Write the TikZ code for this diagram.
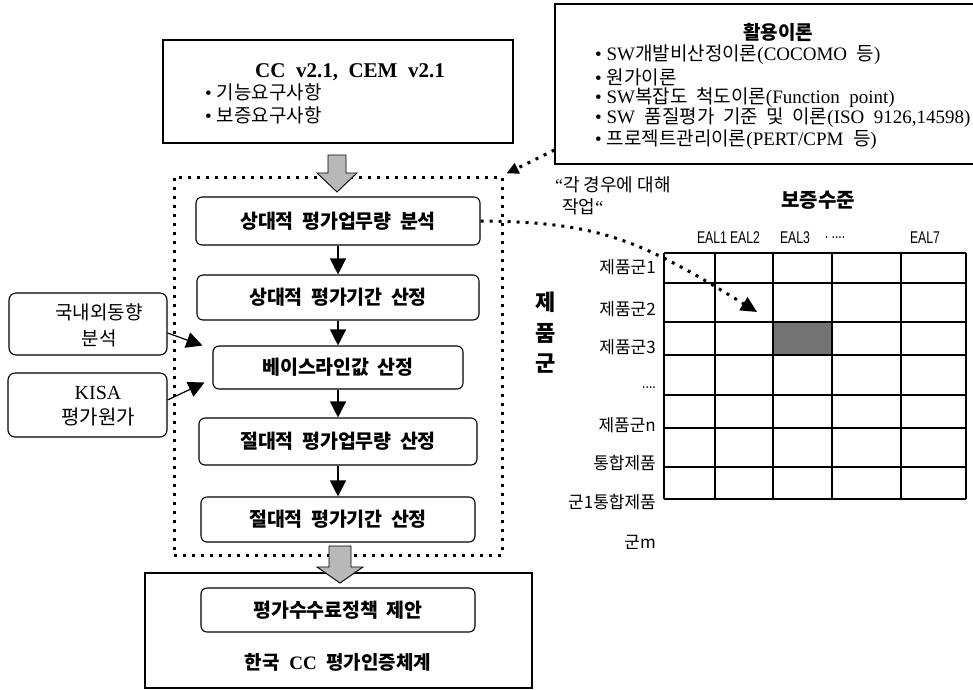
\documentclass[tikz,border=0pt]{standalone}
\usepackage{fontspec}
\setmainfont{Liberation Serif}
\newfontfamily\kr{Noto Sans CJK KR}
\newfontfamily\ealfont[FakeStretch=0.72]{Liberation Sans}
\usetikzlibrary{arrows.meta}
\newcommand\wsp{\hspace{0.42em}}
\tikzset{
  plainbox/.style={draw, line width=1.1pt, inner sep=0pt},
  stepbox/.style={draw, line width=1.1pt, rounded corners=6pt, inner sep=0pt,
    font=\kr\bfseries\fontsize{19.5}{22}\selectfont},
  sidebox/.style={draw, line width=1.1pt, rounded corners=7pt, inner sep=0pt},
  sidetext/.style={inner sep=0pt, align=center, font=\kr\fontsize{19}{26}\selectfont},
  flow/.style={-{Triangle[width=16pt,length=16pt]}, line width=1.2pt},
  dotline/.style={line width=3pt, dash pattern=on 3pt off 6pt},
  hollow/.style={draw=black, line width=0.9pt, fill=black!28},
  rowlab/.style={anchor=east, inner sep=0pt, font=\kr\fontsize{17}{17}\selectfont},
  eal/.style={inner sep=0pt, font=\ealfont\fontsize{17}{17}\selectfont},
  gridl/.style={line width=1.2pt},
  krtext/.style={inner sep=0pt, font=\kr\fontsize{#1}{#1}\selectfont},
  bullet/.style={anchor=west, inner sep=0pt, font=\fontsize{19}{21}\selectfont}
}
\begin{document}
\begin{tikzpicture}[x=1pt,y=-1pt]
\useasboundingbox (0,0) rectangle (973,689);

% ---- CC box
\node[plainbox, minimum width=350pt, minimum height=103pt] (cc) at (338,91.5) {};
\node[inner sep=0pt, font=\bfseries\fontsize{21}{21}\selectfont] (cctitle) at (350,72) {CC\ \ v2.1,\ \ CEM\ \ v2.1};
\node[bullet] (cc1) at (205,92) {• {\kr 기능요구사항}};
\node[bullet] (cc2) at (205,115) {• {\kr 보증요구사항}};

% ---- theory box (its right side runs off the page)
\node[plainbox, minimum width=432pt, minimum height=160pt] (apply) at (771,84) {};
\node[inner sep=0pt, font=\kr\bfseries\fontsize{19}{19}\selectfont] (applyt) at (778,32) {활용이론};
\node[bullet] (u1) at (595,55) {• SW{\kr 개발비산정이론}(COCOMO\ \ {\kr 등})};
\node[bullet] (u2) at (595,77) {• {\kr 원가이론}};
\node[bullet] (u3) at (595,98) {• SW{\kr 복잡도\ \ 척도이론}(Function\ \ point)};
\node[bullet] (u4) at (595,118) {• SW\ \ {\kr 품질평가\ \ 기준\ \ 및\ \ 이론}(ISO\ \ 9126,14598)};
\node[bullet] (u5) at (595,140) {• {\kr 프로젝트관리이론}(PERT/CPM\ \ {\kr 등})};

% ---- dotted frame and steps
\node[draw, dotline, minimum width=328pt, minimum height=378pt, inner sep=0pt] (frame) at (338,366) {};
\node[stepbox, minimum width=284pt, minimum height=48pt] (s1) at (338,221) {상대적\wsp 평가업무량\wsp 분석};
\node[stepbox, minimum width=282pt, minimum height=45pt] (s2) at (338,297.5) {상대적\wsp 평가기간\wsp 산정};
\node[stepbox, minimum width=250pt, minimum height=43pt] (s3) at (338,367.5) {베이스라인값\wsp 산정};
\node[stepbox, minimum width=278pt, minimum height=47pt] (s4) at (338,441.5) {절대적\wsp 평가업무량\wsp 산정};
\node[stepbox, minimum width=274pt, minimum height=45pt] (s5) at (338,519.5) {절대적\wsp 평가기간\wsp 산정};
\draw[flow] (s1) -- (s2);
\draw[flow] (s2) -- (s3);
\draw[flow] (s3) -- (s4);
\draw[flow] (s4) -- (s5);

% ---- side boxes
\node[sidebox, minimum width=158pt, minimum height=62pt] (sa) at (88,324) {};
\node[sidetext] (sat) at (99,325) {국내외동향\\분석};
\node[sidebox, minimum width=159pt, minimum height=64pt] (sb) at (87.5,405) {};
\node[sidetext, font=\fontsize{20}{25}\selectfont] (sbt) at (98,406) {KISA\\{\kr 평가원가}};
\draw[flow] ([yshift=-9pt]sa.east) -- ([xshift=-10pt,yshift=22pt]s3.west);
\draw[flow] ([yshift=5pt]sb.east) -- ([xshift=-8pt,yshift=-15pt]s3.west);

% ---- bottom box
\node[plainbox, minimum width=387pt, minimum height=115pt] (korea) at (338.5,630.5) {};
\node[stepbox, minimum width=274pt, minimum height=44pt] (fee) at (338,610) {평가수수료정책\wsp 제안};
\node[inner sep=0pt, font=\bfseries\fontsize{19}{19}\selectfont] (koreat) at (338,662)
  {{\kr 한국}\ \ CC\ \ {\kr 평가인증체계}};

% ---- hollow arrows
\draw[hollow] (328,155) -- (346,155) -- (346,173) -- (357,173) -- (337,192) -- (317,173) -- (328,173) -- cycle;
\draw[hollow] (329,546) -- (351,546) -- (351,567) -- (363,567) -- (340,583) -- (317,567) -- (329,567) -- cycle;

% ---- dotted link from theory box
\draw[dotline, -{Triangle[width=11pt,length=12pt]}] ([yshift=-66pt]apply.west) -- ([xshift=3pt,yshift=2pt]frame.north east);

% ---- matrix
\fill[black!55] (773,322) rectangle (832,355);
\foreach \x in {664,715,773,832,901,966} \draw[gridl] (\x,253) -- (\x,499);
\foreach \y in {253,283,322,355,395,428,467,499} \draw[gridl] (664,\y) -- (966,\y);
\coordinate (target) at (757,312);

\node[krtext=18, anchor=west] (note1) at (555,185) {{\rmfamily “}각 경우에 대해};
\node[krtext=18, anchor=west] (note2) at (562,207) {작업{\rmfamily “}};
\node[inner sep=0pt, font=\kr\bfseries\fontsize{20}{20}\selectfont] (level) at (818,200) {보증수준};
\node[eal] (e1) at (712,238) {EAL1};
\node[eal] (e2) at (745,238) {EAL2};
\node[eal] (e3) at (795,238) {EAL3};
\node[eal] (e4) at (835,238) {.\ ....};
\node[eal] (e7) at (925,238) {EAL7};

\node[rowlab] (r1) at (656,267) {제품군1};
\node[rowlab] (r2) at (656,309) {제품군2};
\node[rowlab] (r3) at (656,347) {제품군3};
\node[rowlab, font=\ealfont\fontsize{17}{17}\selectfont] (r4) at (656,388) {....};
\node[rowlab] (r5) at (656,425) {제품군n};
\node[rowlab] (r6) at (656,463) {통합제품};
\node[rowlab] (r7) at (656,502) {군1통합제품};
\node[rowlab] (r8) at (656,542) {군m};

\node[inner sep=0pt, font=\kr\bfseries\fontsize{22}{22}\selectfont] (g1) at (546,302) {제};
\node[inner sep=0pt, font=\kr\bfseries\fontsize{22}{22}\selectfont] (g2) at (546,333) {품};
\node[inner sep=0pt, font=\kr\bfseries\fontsize{22}{22}\selectfont] (g3) at (546,364) {군};

\draw[dotline, -{Triangle[width=15pt,length=16pt]}] (s1.east) .. controls (600,222) and (640,240) .. (target);
\end{tikzpicture}
\end{document}
